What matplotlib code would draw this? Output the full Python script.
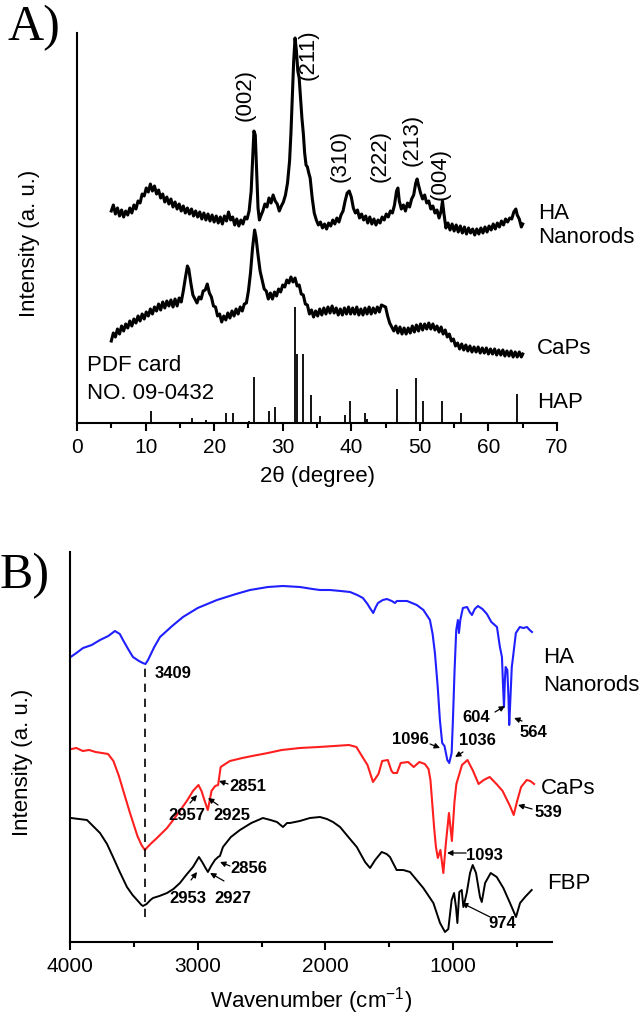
import numpy as np
import matplotlib
matplotlib.use("Agg")
import matplotlib.pyplot as plt

plt.rcParams['font.family'] = ['Liberation Sans', 'DejaVu Sans']
plt.rcParams['mathtext.default'] = 'regular'

# ---------------- Panel A: XRD (2theta, intensity a.u.) ----------------
ha_xrd = [
    (5.0, 212), (5.3, 218), (5.6, 209), (5.9, 215), (6.2, 207), (6.5, 213), (6.8, 206), (7.1, 212),
    (7.4, 208), (7.7, 215), (8.0, 210), (8.3, 218), (8.6, 214), (8.9, 222), (9.2, 220), (9.5, 229),
    (9.8, 227), (10.1, 235), (10.4, 231), (10.7, 239), (11.0, 232), (11.3, 237), (11.6, 229), (11.9, 233),
    (12.2, 225), (12.5, 229), (12.8, 221), (13.1, 226), (13.4, 219), (13.7, 224), (14.0, 216), (14.3, 221),
    (14.6, 214), (14.9, 219), (15.2, 212), (15.5, 217), (15.8, 210), (16.1, 215), (16.4, 209), (16.7, 214),
    (17.0, 207), (17.3, 212), (17.6, 206), (17.9, 211), (18.2, 204), (18.5, 210), (18.8, 203), (19.1, 209),
    (19.4, 202), (19.7, 208), (20.0, 201), (20.3, 207), (20.6, 200), (20.9, 206), (21.2, 199), (21.5, 207),
    (21.8, 202), (22.1, 211), (22.4, 203), (22.7, 206), (23.0, 198), (23.3, 204), (23.6, 197), (23.9, 203),
    (24.2, 199), (24.5, 206), (24.8, 204), (25.1, 212), (25.4, 232), (25.6, 262), (25.8, 292), (26.0, 288),
    (26.2, 250), (26.4, 215), (26.6, 203), (26.8, 207), (27.1, 212), (27.4, 219), (27.7, 216), (28.0, 225),
    (28.3, 220), (28.6, 228), (28.9, 222), (29.2, 219), (29.5, 212), (29.8, 217), (30.1, 221), (30.4, 228),
    (30.7, 240), (31.0, 262), (31.2, 290), (31.4, 325), (31.6, 362), (31.8, 385), (32.0, 372), (32.2, 352),
    (32.4, 345), (32.6, 325), (32.8, 305), (33.0, 290), (33.2, 270), (33.4, 258), (33.6, 256), (33.8, 250),
    (34.0, 245), (34.3, 225), (34.6, 210), (34.9, 203), (35.2, 198), (35.5, 201), (35.8, 195), (36.1, 199),
    (36.4, 194), (36.7, 200), (37.0, 197), (37.3, 203), (37.6, 199), (37.9, 205), (38.2, 201), (38.5, 208),
    (38.8, 212), (39.1, 222), (39.4, 230), (39.7, 232), (40.0, 226), (40.3, 215), (40.6, 210), (40.9, 213),
    (41.2, 205), (41.5, 209), (41.8, 203), (42.1, 207), (42.4, 200), (42.7, 206), (43.0, 199), (43.3, 204),
    (43.6, 198), (43.9, 203), (44.2, 200), (44.5, 206), (44.8, 203), (45.1, 209), (45.4, 206), (45.7, 212),
    (46.0, 210), (46.3, 218), (46.6, 232), (46.8, 235), (47.0, 222), (47.3, 214), (47.6, 218), (47.9, 212),
    (48.2, 220), (48.5, 216), (48.8, 224), (49.1, 228), (49.4, 240), (49.6, 244), (49.8, 238), (50.1, 230),
    (50.4, 224), (50.7, 228), (51.0, 220), (51.3, 222), (51.6, 214), (51.9, 217), (52.2, 210), (52.5, 213),
    (52.8, 205), (53.1, 212), (53.3, 222), (53.5, 210), (53.8, 195), (54.1, 200), (54.4, 193), (54.7, 199),
    (55.0, 192), (55.3, 198), (55.6, 191), (55.9, 197), (56.2, 190), (56.5, 196), (56.8, 189), (57.1, 195),
    (57.4, 190), (57.7, 194), (58.0, 188), (58.3, 194), (58.6, 189), (58.9, 195), (59.2, 190), (59.5, 196),
    (59.8, 191), (60.1, 197), (60.4, 193), (60.7, 199), (61.0, 194), (61.3, 200), (61.6, 196), (61.9, 202),
    (62.2, 198), (62.5, 204), (62.8, 201), (63.1, 205), (63.4, 204), (63.7, 211), (64.0, 214), (64.2, 208),
    (64.5, 204), (64.8, 196), (65.0, 199),
]

caps_xrd = [
    (5.0, 82), (5.3, 90), (5.6, 86), (5.9, 94), (6.2, 89), (6.5, 97), (6.8, 92), (7.1, 99), (7.4, 95),
    (7.7, 102), (8.0, 97), (8.3, 104), (8.6, 100), (8.9, 107), (9.2, 102), (9.5, 109), (9.8, 104),
    (10.1, 111), (10.4, 107), (10.7, 114), (11.0, 109), (11.3, 116), (11.6, 112), (11.9, 119), (12.2, 113),
    (12.5, 121), (12.8, 115), (13.1, 122), (13.4, 117), (13.7, 123), (14.0, 116), (14.3, 124), (14.6, 117),
    (14.9, 125), (15.2, 121), (15.5, 132), (15.8, 145), (16.1, 157), (16.3, 154), (16.6, 140), (16.9, 128),
    (17.2, 124), (17.5, 120), (17.8, 126), (18.1, 124), (18.4, 132), (18.7, 133), (19.0, 139), (19.3, 130),
    (19.6, 126), (19.9, 117), (20.2, 116), (20.5, 107), (20.8, 109), (21.1, 101), (21.4, 107), (21.7, 103),
    (22.0, 110), (22.3, 105), (22.6, 112), (22.9, 107), (23.2, 114), (23.5, 109), (23.8, 116), (24.1, 112),
    (24.4, 119), (24.7, 120), (25.0, 132), (25.3, 150), (25.6, 175), (25.9, 193), (26.1, 186), (26.4, 168),
    (26.7, 152), (27.0, 143), (27.3, 134), (27.6, 132), (27.9, 124), (28.2, 130), (28.5, 124), (28.8, 131),
    (29.1, 127), (29.4, 134), (29.7, 131), (30.0, 138), (30.3, 136), (30.6, 143), (30.9, 140), (31.2, 146),
    (31.5, 141), (31.8, 145), (32.1, 137), (32.4, 138), (32.7, 129), (33.0, 128), (33.3, 119), (33.6, 118),
    (33.9, 109), (34.2, 113), (34.5, 106), (34.8, 112), (35.1, 107), (35.4, 114), (35.7, 108), (36.0, 115),
    (36.3, 109), (36.6, 116), (36.9, 110), (37.2, 117), (37.5, 110), (37.8, 115), (38.1, 108), (38.4, 114),
    (38.7, 108), (39.0, 115), (39.3, 109), (39.6, 116), (39.9, 109), (40.2, 115), (40.5, 109), (40.8, 116),
    (41.1, 108), (41.4, 114), (41.7, 108), (42.0, 115), (42.3, 109), (42.6, 116), (42.9, 109), (43.2, 115),
    (43.5, 110), (43.8, 116), (44.1, 111), (44.4, 118), (44.7, 117), (45.0, 116), (45.3, 107), (45.6, 100),
    (45.9, 96), (46.2, 92), (46.5, 97), (46.8, 90), (47.1, 96), (47.4, 89), (47.7, 95), (48.0, 89),
    (48.3, 95), (48.6, 90), (48.9, 97), (49.2, 91), (49.5, 98), (49.8, 92), (50.1, 99), (50.4, 93),
    (50.7, 99), (51.0, 94), (51.3, 100), (51.6, 94), (51.9, 99), (52.2, 93), (52.5, 97), (52.8, 91),
    (53.1, 96), (53.4, 89), (53.7, 93), (54.0, 86), (54.3, 89), (54.6, 82), (54.9, 84), (55.2, 77),
    (55.5, 80), (55.8, 74), (56.1, 79), (56.4, 73), (56.7, 78), (57.0, 72), (57.3, 77), (57.6, 71),
    (57.9, 76), (58.2, 71), (58.5, 76), (58.8, 70), (59.1, 75), (59.4, 70), (59.7, 75), (60.0, 69),
    (60.3, 74), (60.6, 69), (60.9, 74), (61.2, 68), (61.5, 73), (61.8, 68), (62.1, 73), (62.4, 67),
    (62.7, 72), (63.0, 67), (63.3, 72), (63.6, 66), (63.9, 71), (64.2, 66), (64.5, 71), (64.8, 66),
    (65.0, 69),
]

# PDF card 09-0432 reference lines (2theta, relative height)
hap_pos = [10.8, 16.8, 18.8, 21.8, 22.8, 25.1, 25.8, 28.0, 28.9, 31.8, 32.1, 32.9, 34.1, 35.5,
           39.1, 39.8, 42.0, 42.3, 46.7, 49.5, 50.5, 53.2, 56.0, 64.2]
hap_int = [12, 5, 3, 10, 10, 2, 46, 12, 16, 116, 69, 69, 28, 7,
           8, 22, 10, 4, 34, 45, 22, 22, 10, 29]

peak_labels = ['(002)', '(211)', '(310)', '(222)', '(213)', '(004)']
peak_label_pos = [(24.5, 328), (33.7, 368), (38.4, 267), (44.2, 267), (48.9, 283), (52.9, 249)]

# ---------------- Panel B: FTIR (wavenumber, transmittance a.u.) ----------------
ha_ftir = [
    (3995, 285), (3950, 289), (3898, 294), (3830, 297), (3765, 302), (3700, 306), (3648, 311),
    (3610, 308), (3585, 302), (3545, 293), (3507, 285), (3460, 281), (3430, 279), (3409, 278),
    (3389, 282), (3340, 295), (3295, 305), (3200, 316), (3115, 325), (3000, 334), (2849, 342),
    (2700, 348), (2590, 352), (2450, 355), (2332, 356), (2199, 355), (2100, 353), (2042, 352),
    (1964, 352), (1880, 351), (1807, 350), (1750, 347), (1706, 344), (1670, 338), (1651, 334),
    (1625, 329), (1605, 335), (1588, 339), (1550, 342), (1518, 343), (1480, 341), (1455, 339),
    (1440, 341), (1416, 341), (1360, 341), (1284, 337), (1232, 332), (1181, 322), (1160, 308),
    (1142, 289), (1120, 255), (1103, 222), (1085, 199), (1067, 196), (1045, 182), (1030, 179),
    (1011, 189), (1001, 222), (988, 272), (975, 312), (962, 322), (954, 309), (943, 322),
    (923, 334), (890, 335), (870, 330), (852, 327), (830, 333), (805, 336), (770, 333), (735, 328),
    (700, 320), (656, 315), (633, 295), (617, 285), (608, 255), (601, 235), (594, 262),
    (588, 275), (575, 272), (566, 245), (560, 217), (552, 240), (540, 275), (533, 282),
    (508, 309), (477, 315), (450, 314), (421, 315), (400, 312), (382, 310),
]

caps_ftir = [
    (3990, 193), (3950, 194), (3900, 191), (3850, 192), (3800, 190), (3750, 189), (3702, 188),
    (3660, 181), (3617, 166), (3575, 148), (3530, 129), (3472, 106), (3440, 97), (3414, 92),
    (3370, 98), (3327, 103), (3240, 114), (3180, 124), (3124, 134), (3080, 142), (3037, 151),
    (2994, 157), (2970, 151), (2950, 143), (2921, 132), (2905, 142), (2892, 151), (2863, 156),
    (2840, 157), (2820, 175), (2748, 181), (2650, 184), (2574, 186), (2450, 189), (2342, 192),
    (2200, 194), (2052, 195), (1930, 196), (1815, 197), (1757, 195), (1714, 186), (1670, 177),
    (1627, 160), (1584, 168), (1555, 181), (1511, 182), (1482, 171), (1468, 169), (1439, 169),
    (1410, 179), (1352, 180), (1308, 175), (1264, 180), (1221, 178), (1192, 173), (1177, 162),
    (1148, 114), (1134, 95), (1119, 84), (1099, 92), (1076, 69), (1056, 99), (1032, 129),
    (1009, 101), (989, 140), (974, 158), (930, 177), (887, 182), (843, 171), (800, 158),
    (760, 162), (713, 165), (660, 158), (612, 151), (554, 136), (525, 127), (500, 140),
    (467, 155), (423, 162), (395, 161), (365, 158),
]

fbp_ftir = [
    (3992, 124), (3930, 123), (3867, 122), (3820, 116), (3765, 109), (3710, 98), (3663, 85),
    (3610, 70), (3554, 55), (3510, 47), (3475, 42), (3440, 37), (3428, 36), (3400, 38),
    (3370, 42), (3350, 44), (3300, 46), (3240, 49), (3190, 53), (3139, 59), (3090, 67),
    (3037, 75), (2990, 85), (2965, 80), (2943, 75), (2920, 70), (2895, 76), (2865, 82),
    (2840, 85), (2826, 86), (2802, 95), (2740, 105), (2669, 112), (2580, 119), (2489, 124),
    (2430, 122), (2379, 120), (2332, 115), (2300, 119), (2277, 119), (2200, 121), (2121, 124),
    (2042, 125), (1988, 123), (1940, 120), (1885, 115), (1820, 105), (1754, 95), (1689, 80),
    (1650, 74), (1610, 82), (1559, 90), (1520, 88), (1494, 85), (1442, 72), (1390, 72),
    (1337, 70), (1285, 62), (1233, 54), (1154, 39), (1102, 19), (1063, 10), (1037, 13),
    (1011, 42), (992, 49), (977, 35), (966, 19), (951, 50), (932, 52), (919, 35), (893, 49),
    (867, 69), (846, 77), (820, 69), (789, 45), (775, 40), (749, 59), (705, 69), (658, 65),
    (606, 54), (554, 39), (507, 25), (475, 39), (436, 45), (384, 52),
]

oh_band = 3409
# (text, text position, arrow tail, arrow head)
ftir_notes = [
    ('604', (820, 225), (671, 230), (593, 236)),
    ('564', (373, 210), (460, 221), (522, 224)),
    ('1096', (1337, 203), (1180, 198), (1102, 194)),
    ('1036', (812, 202), (922, 190), (984, 185)),
    ('2851', (2606, 156), (2762, 158), (2833, 161)),
    ('2957', (3084, 127), (3060, 139), (3005, 147)),
    ('2925', (2731, 127), (2841, 137), (2919, 144)),
    ('2856', (2598, 74), (2747, 76), (2825, 80)),
    ('2953', (3076, 44), (3052, 62), (3005, 70)),
    ('2927', (2723, 44), (2794, 61), (2903, 69)),
    ('1093', (757, 87), (898, 89), (1047, 89)),
    ('974', (616, 19), (710, 25), (930, 39)),
    ('539', (256, 130), (381, 133), (491, 137)),
]

W, H = 644, 1021


def px_rect(left, top, right, bottom):
    return [left / W, 1 - bottom / H, (right - left) / W, (bottom - top) / H]


def style_axis(ax):
    for side in ('top', 'right'):
        ax.spines[side].set_visible(False)
    for side in ('left', 'bottom'):
        ax.spines[side].set_linewidth(1.5)
    ax.set_yticks([])
    ax.tick_params(axis='x', which='major', direction='out', length=6, width=1.5,
                   labelsize=15, pad=5)
    ax.tick_params(axis='x', which='minor', direction='out', length=3.5, width=1.5)


fig = plt.figure(figsize=(W / 100, H / 100), dpi=100)

# ---- A ----
axA = fig.add_axes(px_rect(77, 33, 557, 423))
style_axis(axA)
x, y = np.array(ha_xrd).T
axA.plot(x, y, color='black', lw=2.2, solid_joinstyle='round')
x, y = np.array(caps_xrd).T
axA.plot(x, y, color='black', lw=2.2, solid_joinstyle='round')
axA.vlines(hap_pos, 0, hap_int, color='black', lw=1.3)
axA.set_xlim(0, 70)
axA.set_ylim(0, 390)
axA.set_xticks(np.arange(0, 71, 10))
axA.set_xticks(np.arange(5, 70, 10), minor=True)
axA.set_xlabel('2\u03b8 (degree)', fontsize=16, labelpad=6)
axA.set_ylabel('Intensity (a. u.)', fontsize=16)
axA.yaxis.set_label_coords(-0.077, 0.46)
for lab, (px_, py_) in zip(peak_labels, peak_label_pos):
    axA.text(px_, py_, lab, rotation=90, ha='center', va='center', fontsize=16)
axA.text(67.3, 210, 'HA', fontsize=16, va='center')
axA.text(67.3, 186, 'Nanorods', fontsize=16, va='center')
axA.text(67.1, 75, 'CaPs', fontsize=16, va='center')
axA.text(67.1, 21, 'HAP', fontsize=16, va='center')
axA.text(1.5, 58, 'PDF card', fontsize=16, va='center')
axA.text(1.5, 30, 'NO. 09-0432', fontsize=16, va='center')
fig.text(8 / W, 1 - 28 / H, 'A)', fontsize=36, family='Liberation Serif', va='center')

# ---- B ----
axB = fig.add_axes(px_rect(70, 552, 552, 942))
style_axis(axB)
x, y = np.array(ha_ftir).T
axB.plot(x, y, color='#1f1fff', lw=1.5)
x, y = np.array(caps_ftir).T
axB.plot(x, y, color='#ff1f1f', lw=1.5)
x, y = np.array(fbp_ftir).T
axB.plot(x, y, color='black', lw=1.4)
axB.vlines(oh_band, 25, 279, color='black', lw=1.2, linestyles=(0, (5, 4)))
axB.set_xlim(4000, 225)
axB.set_ylim(0, 390)
axB.set_xticks([4000, 3000, 2000, 1000])
axB.set_xticks([3500, 2500, 1500, 500], minor=True)
axB.set_xlabel('Wavenumber (cm$^{-1}$)', fontsize=16, labelpad=6)
axB.set_ylabel('Intensity (a. u.)', fontsize=16)
axB.yaxis.set_label_coords(-0.077, 0.46)
axB.text(3334, 269, str(oh_band), fontsize=12, fontweight='bold', va='center')
for lab, txt, tail, head in ftir_notes:
    axB.text(txt[0], txt[1], lab, fontsize=12, fontweight='bold', ha='center', va='center')
    axB.annotate('', xy=head, xytext=tail,
                 arrowprops=dict(arrowstyle='-|>', color='black', lw=0.9,
                                 mutation_scale=8, shrinkA=0, shrinkB=0))
axB.text(295, 285, 'HA', fontsize=16, va='center')
axB.text(295, 257, 'Nanorods', fontsize=16, va='center')
axB.text(311, 154, 'CaPs', fontsize=16, va='center')
axB.text(264, 59, 'FBP', fontsize=16, va='center')
fig.text(0 / W, 1 - 576 / H, 'B)', fontsize=36, family='Liberation Serif', va='center')

fig.savefig('out.png', dpi=100)
